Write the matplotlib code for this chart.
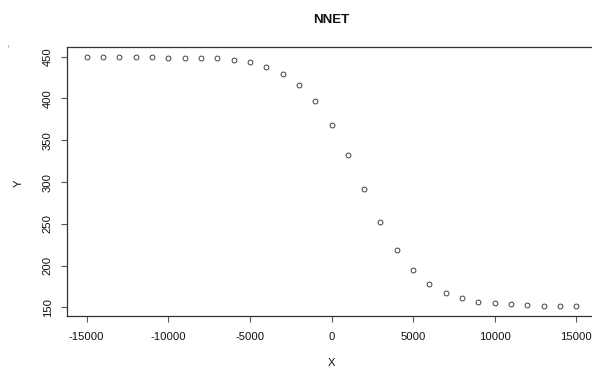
import matplotlib
matplotlib.use("Agg")
import matplotlib.pyplot as plt
import numpy as np

plt.rcParams['font.family'] = ['Liberation Sans', 'DejaVu Sans']

x_vals = list(range(-15000, 15001, 1000))
y_vals = [449.6, 449.6, 449.6, 449.6, 449.6, 448.8, 448.8, 448.0, 448.0, 445.6,
          443.0, 438.0, 429.3, 416.1, 397.3, 368.2, 332.3, 292.0, 251.7, 219.0,
          195.3, 178.1, 167.6, 160.8, 156.5, 155.0, 154.2, 152.4, 151.6, 151.6, 151.6]
x_ticks = [-15000, -10000, -5000, 0, 5000, 10000, 15000]
y_ticks = [150, 200, 250, 300, 350, 400, 450]
title = "NNET"
xlabel = "X"
ylabel = "Y"

W, H = 592, 367
fig = plt.figure(figsize=(W / 100, H / 100), dpi=100)
ax = fig.add_axes([67 / W, (H - 316) / H, (596 - 67) / W, (316 - 47) / H])

ax.plot(x_vals, y_vals, linestyle='none', marker='o', markersize=3.5,
        markerfacecolor='none', markeredgecolor='#333333', markeredgewidth=0.65)

xr = max(x_vals) - min(x_vals)
yr = max(y_vals) - min(y_vals)
ax.set_xlim(min(x_vals) - 0.04 * xr, max(x_vals) + 0.04 * xr)
ax.set_ylim(min(y_vals) - 0.04 * yr, max(y_vals) + 0.04 * yr)

ax.set_xticks(x_ticks)
ax.set_xticklabels([str(t) for t in x_ticks])
ax.set_yticks(y_ticks)
ax.set_yticklabels([str(t) for t in y_ticks], rotation=90, va='center')

for s in ax.spines.values():
    s.set_color('#333333')
    s.set_linewidth(0.9)

ax.tick_params(axis='both', direction='out', length=4.3, width=0.8, color='#555555',
               labelsize=8.1, labelcolor='#111111')
ax.tick_params(axis='x', pad=7.0)
ax.tick_params(axis='y', pad=6.0)

fig.text(331 / W, 1 - 20 / H, title, ha='center', va='center', fontsize=9.5,
         fontweight='bold', color='#111111')
fig.text(331 / W, 1 - 363 / H, xlabel, ha='center', va='center', fontsize=8.1,
         color='#111111')
fig.text(19 / W, 1 - 183 / H, ylabel, ha='center', va='center', fontsize=8.1,
         rotation=90, color='#111111')
fig.text(9 / W, 1 - 45 / H, "-", ha='center', va='center', fontsize=7,
         rotation=90, color='#999999')

fig.savefig("out.png", dpi=100)
